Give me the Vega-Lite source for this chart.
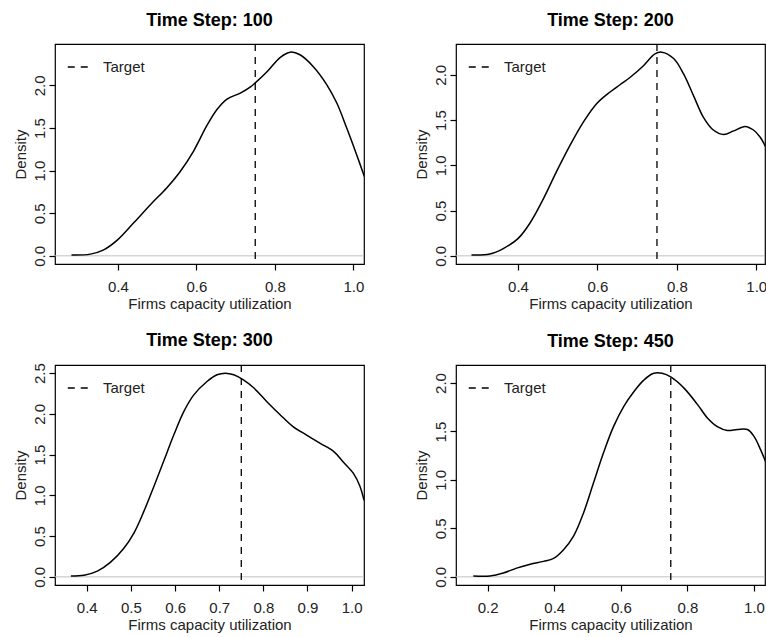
{
  "$schema": "https://vega.github.io/schema/vega-lite/v6.json",
  "padding": {"left": 12, "top": 11, "right": 0, "bottom": 0},
  "background": "white",
  "datasets": {
    "p100": [
      {"x": 0.282, "y": 0.01}, {"x": 0.33, "y": 0.02}, {"x": 0.364, "y": 0.07}, {"x": 0.4, "y": 0.19},
      {"x": 0.441, "y": 0.39}, {"x": 0.483, "y": 0.6}, {"x": 0.525, "y": 0.8}, {"x": 0.559, "y": 0.99},
      {"x": 0.593, "y": 1.23}, {"x": 0.627, "y": 1.53}, {"x": 0.653, "y": 1.72}, {"x": 0.678, "y": 1.84},
      {"x": 0.712, "y": 1.91}, {"x": 0.737, "y": 1.98}, {"x": 0.75, "y": 2.03}, {"x": 0.78, "y": 2.16},
      {"x": 0.814, "y": 2.33}, {"x": 0.839, "y": 2.39}, {"x": 0.864, "y": 2.36}, {"x": 0.898, "y": 2.22},
      {"x": 0.932, "y": 2.01}, {"x": 0.958, "y": 1.79}, {"x": 0.983, "y": 1.5}, {"x": 1.008, "y": 1.19},
      {"x": 1.028, "y": 0.93}
    ],
    "p200": [
      {"x": 0.283, "y": 0.01}, {"x": 0.329, "y": 0.02}, {"x": 0.363, "y": 0.08}, {"x": 0.4, "y": 0.19},
      {"x": 0.43, "y": 0.36}, {"x": 0.464, "y": 0.63}, {"x": 0.497, "y": 0.93}, {"x": 0.531, "y": 1.22},
      {"x": 0.565, "y": 1.48}, {"x": 0.598, "y": 1.68}, {"x": 0.632, "y": 1.81}, {"x": 0.657, "y": 1.89},
      {"x": 0.682, "y": 1.97}, {"x": 0.716, "y": 2.1}, {"x": 0.745, "y": 2.23}, {"x": 0.762, "y": 2.25},
      {"x": 0.792, "y": 2.18}, {"x": 0.817, "y": 2.01}, {"x": 0.842, "y": 1.77}, {"x": 0.867, "y": 1.53},
      {"x": 0.892, "y": 1.39}, {"x": 0.918, "y": 1.34}, {"x": 0.943, "y": 1.38}, {"x": 0.972, "y": 1.43},
      {"x": 0.993, "y": 1.39}, {"x": 1.01, "y": 1.31}, {"x": 1.024, "y": 1.2}
    ],
    "p300": [
      {"x": 0.364, "y": 0.01}, {"x": 0.394, "y": 0.02}, {"x": 0.424, "y": 0.07}, {"x": 0.454, "y": 0.18},
      {"x": 0.484, "y": 0.35}, {"x": 0.507, "y": 0.54}, {"x": 0.529, "y": 0.8}, {"x": 0.552, "y": 1.11},
      {"x": 0.575, "y": 1.43}, {"x": 0.597, "y": 1.74}, {"x": 0.62, "y": 2.03}, {"x": 0.642, "y": 2.23},
      {"x": 0.673, "y": 2.4}, {"x": 0.695, "y": 2.48}, {"x": 0.714, "y": 2.5}, {"x": 0.733, "y": 2.48},
      {"x": 0.754, "y": 2.42}, {"x": 0.778, "y": 2.32}, {"x": 0.808, "y": 2.15}, {"x": 0.838, "y": 1.99},
      {"x": 0.868, "y": 1.84}, {"x": 0.898, "y": 1.74}, {"x": 0.928, "y": 1.64}, {"x": 0.959, "y": 1.54},
      {"x": 0.981, "y": 1.41}, {"x": 1.004, "y": 1.27}, {"x": 1.019, "y": 1.11}, {"x": 1.028, "y": 0.94}
    ],
    "p450": [
      {"x": 0.157, "y": 0.01}, {"x": 0.207, "y": 0.01}, {"x": 0.247, "y": 0.04}, {"x": 0.287, "y": 0.09},
      {"x": 0.328, "y": 0.13}, {"x": 0.368, "y": 0.16}, {"x": 0.398, "y": 0.19}, {"x": 0.428, "y": 0.28},
      {"x": 0.458, "y": 0.42}, {"x": 0.488, "y": 0.66}, {"x": 0.518, "y": 0.97}, {"x": 0.548, "y": 1.28},
      {"x": 0.578, "y": 1.55}, {"x": 0.609, "y": 1.76}, {"x": 0.639, "y": 1.91}, {"x": 0.669, "y": 2.03},
      {"x": 0.699, "y": 2.1}, {"x": 0.724, "y": 2.1}, {"x": 0.751, "y": 2.06}, {"x": 0.789, "y": 1.95},
      {"x": 0.83, "y": 1.78}, {"x": 0.86, "y": 1.64}, {"x": 0.89, "y": 1.55}, {"x": 0.92, "y": 1.51},
      {"x": 0.95, "y": 1.52}, {"x": 0.98, "y": 1.52}, {"x": 1.0, "y": 1.45}, {"x": 1.02, "y": 1.31},
      {"x": 1.037, "y": 1.17}
    ]
  },
  "columns": 2,
  "bounds": "flush",
  "spacing": {"column": 92, "row": 101},
  "resolve": {"scale": {"strokeDash": "independent"}, "legend": {"strokeDash": "independent"}},
  "concat": [
    {
      "width": 309, "height": 220,
      "title": {"text": "Time Step: 100"},
      "layer": [
        {"data": {"values": [{"y": 0}]}, "mark": {"type": "rule", "color": "#c0c0c0", "strokeWidth": 1},
         "encoding": {"y": {"field": "y", "type": "quantitative", "scale": {"domain": [-0.096, 2.486], "nice": false, "zero": false}, "axis": {"title": "Density", "values": [0, 0.5, 1, 1.5, 2], "format": ".1f"}}}},
        {"data": {"name": "p100"}, "mark": {"type": "line", "color": "black", "strokeWidth": 1.5, "clip": true, "interpolate": "catmull-rom"},
         "encoding": {
           "x": {"field": "x", "type": "quantitative", "scale": {"domain": [0.24, 1.027], "nice": false, "zero": false}, "axis": {"title": "Firms capacity utilization", "values": [0.4, 0.6, 0.8, 1.0], "format": ".1f"}},
           "y": {"field": "y", "type": "quantitative", "scale": {"domain": [-0.096, 2.486], "nice": false, "zero": false}, "axis": {"title": "Density", "values": [0, 0.5, 1, 1.5, 2], "format": ".1f"}}}},
        {"data": {"values": [{"x": 0.75, "series": "Target"}]}, "mark": {"type": "rule", "color": "black", "strokeWidth": 1.3},
         "encoding": {
           "x": {"field": "x", "type": "quantitative", "scale": {"domain": [0.24, 1.027], "nice": false, "zero": false}, "axis": {"title": "Firms capacity utilization", "values": [0.4, 0.6, 0.8, 1.0], "format": ".1f"}},
           "strokeDash": {"field": "series", "type": "nominal", "scale": {"domain": ["Target"], "range": [[7, 6]]}, "legend": {"title": null, "orient": "top-left", "offset": 12}}}}
      ]
    },
    {
      "width": 309, "height": 220,
      "title": {"text": "Time Step: 200"},
      "layer": [
        {"data": {"values": [{"y": 0}]}, "mark": {"type": "rule", "color": "#c0c0c0", "strokeWidth": 1},
         "encoding": {"y": {"field": "y", "type": "quantitative", "scale": {"domain": [-0.09, 2.34], "nice": false, "zero": false}, "axis": {"title": "Density", "values": [0, 0.5, 1, 1.5, 2], "format": ".1f"}}}},
        {"data": {"name": "p200"}, "mark": {"type": "line", "color": "black", "strokeWidth": 1.5, "clip": true, "interpolate": "catmull-rom"},
         "encoding": {
           "x": {"field": "x", "type": "quantitative", "scale": {"domain": [0.244, 1.022], "nice": false, "zero": false}, "axis": {"title": "Firms capacity utilization", "values": [0.4, 0.6, 0.8, 1.0], "format": ".1f"}},
           "y": {"field": "y", "type": "quantitative", "scale": {"domain": [-0.09, 2.34], "nice": false, "zero": false}, "axis": {"title": "Density", "values": [0, 0.5, 1, 1.5, 2], "format": ".1f"}}}},
        {"data": {"values": [{"x": 0.75, "series": "Target"}]}, "mark": {"type": "rule", "color": "black", "strokeWidth": 1.3},
         "encoding": {
           "x": {"field": "x", "type": "quantitative", "scale": {"domain": [0.244, 1.022], "nice": false, "zero": false}, "axis": {"title": "Firms capacity utilization", "values": [0.4, 0.6, 0.8, 1.0], "format": ".1f"}},
           "strokeDash": {"field": "series", "type": "nominal", "scale": {"domain": ["Target"], "range": [[7, 6]]}, "legend": {"title": null, "orient": "top-left", "offset": 12}}}}
      ]
    },
    {
      "width": 309, "height": 220,
      "title": {"text": "Time Step: 300"},
      "layer": [
        {"data": {"values": [{"y": 0}]}, "mark": {"type": "rule", "color": "#c0c0c0", "strokeWidth": 1},
         "encoding": {"y": {"field": "y", "type": "quantitative", "scale": {"domain": [-0.1, 2.6], "nice": false, "zero": false}, "axis": {"title": "Density", "values": [0, 0.5, 1, 1.5, 2, 2.5], "format": ".1f"}}}},
        {"data": {"name": "p300"}, "mark": {"type": "line", "color": "black", "strokeWidth": 1.5, "clip": true, "interpolate": "catmull-rom"},
         "encoding": {
           "x": {"field": "x", "type": "quantitative", "scale": {"domain": [0.328, 1.028], "nice": false, "zero": false}, "axis": {"title": "Firms capacity utilization", "values": [0.4, 0.5, 0.6, 0.7, 0.8, 0.9, 1.0], "format": ".1f"}},
           "y": {"field": "y", "type": "quantitative", "scale": {"domain": [-0.1, 2.6], "nice": false, "zero": false}, "axis": {"title": "Density", "values": [0, 0.5, 1, 1.5, 2, 2.5], "format": ".1f"}}}},
        {"data": {"values": [{"x": 0.75, "series": "Target"}]}, "mark": {"type": "rule", "color": "black", "strokeWidth": 1.3},
         "encoding": {
           "x": {"field": "x", "type": "quantitative", "scale": {"domain": [0.328, 1.028], "nice": false, "zero": false}, "axis": {"title": "Firms capacity utilization", "values": [0.4, 0.5, 0.6, 0.7, 0.8, 0.9, 1.0], "format": ".1f"}},
           "strokeDash": {"field": "series", "type": "nominal", "scale": {"domain": ["Target"], "range": [[7, 6]]}, "legend": {"title": null, "orient": "top-left", "offset": 12}}}}
      ]
    },
    {
      "width": 309, "height": 220,
      "title": {"text": "Time Step: 450"},
      "layer": [
        {"data": {"values": [{"y": 0}]}, "mark": {"type": "rule", "color": "#c0c0c0", "strokeWidth": 1},
         "encoding": {"y": {"field": "y", "type": "quantitative", "scale": {"domain": [-0.084, 2.186], "nice": false, "zero": false}, "axis": {"title": "Density", "values": [0, 0.5, 1, 1.5, 2], "format": ".1f"}}}},
        {"data": {"name": "p450"}, "mark": {"type": "line", "color": "black", "strokeWidth": 1.5, "clip": true, "interpolate": "catmull-rom"},
         "encoding": {
           "x": {"field": "x", "type": "quantitative", "scale": {"domain": [0.105, 1.033], "nice": false, "zero": false}, "axis": {"title": "Firms capacity utilization", "values": [0.2, 0.4, 0.6, 0.8, 1.0], "format": ".1f"}},
           "y": {"field": "y", "type": "quantitative", "scale": {"domain": [-0.084, 2.186], "nice": false, "zero": false}, "axis": {"title": "Density", "values": [0, 0.5, 1, 1.5, 2], "format": ".1f"}}}},
        {"data": {"values": [{"x": 0.75, "series": "Target"}]}, "mark": {"type": "rule", "color": "black", "strokeWidth": 1.3},
         "encoding": {
           "x": {"field": "x", "type": "quantitative", "scale": {"domain": [0.105, 1.033], "nice": false, "zero": false}, "axis": {"title": "Firms capacity utilization", "values": [0.2, 0.4, 0.6, 0.8, 1.0], "format": ".1f"}},
           "strokeDash": {"field": "series", "type": "nominal", "scale": {"domain": ["Target"], "range": [[7, 6]]}, "legend": {"title": null, "orient": "top-left", "offset": 12}}}}
      ]
    }
  ],
  "config": {
    "font": "Liberation Sans",
    "view": {"stroke": "black", "strokeWidth": 1.2},
    "axis": {
      "domain": false, "grid": false, "ticks": true, "tickColor": "black", "tickSize": 6, "tickWidth": 1.2,
      "labelFont": "Liberation Sans", "labelFontSize": 15, "labelColor": "#222222", "labelPadding": 9,
      "titleFont": "Liberation Sans", "titleFontSize": 15, "titleFontWeight": "normal", "titleColor": "#222222", "titlePadding": 2,
      "labelOverlap": false, "labelFlush": false
    },
    "axisY": {"labelAngle": -90, "labelAlign": "center", "labelBaseline": "bottom", "labelPadding": 2, "titlePadding": 4},
    "title": {"font": "Liberation Sans", "fontSize": 18, "fontWeight": "bold", "color": "black", "frame": "group", "anchor": "middle", "baseline": "alphabetic", "offset": 13},
    "legend": {
      "symbolType": "stroke", "symbolSize": 420, "symbolStrokeColor": "black", "symbolStrokeWidth": 1.3,
      "labelFont": "Liberation Sans", "labelFontSize": 15, "labelColor": "#222222", "labelOffset": 14,
      "padding": 0, "strokeColor": null, "fillColor": null
    }
  }
}
